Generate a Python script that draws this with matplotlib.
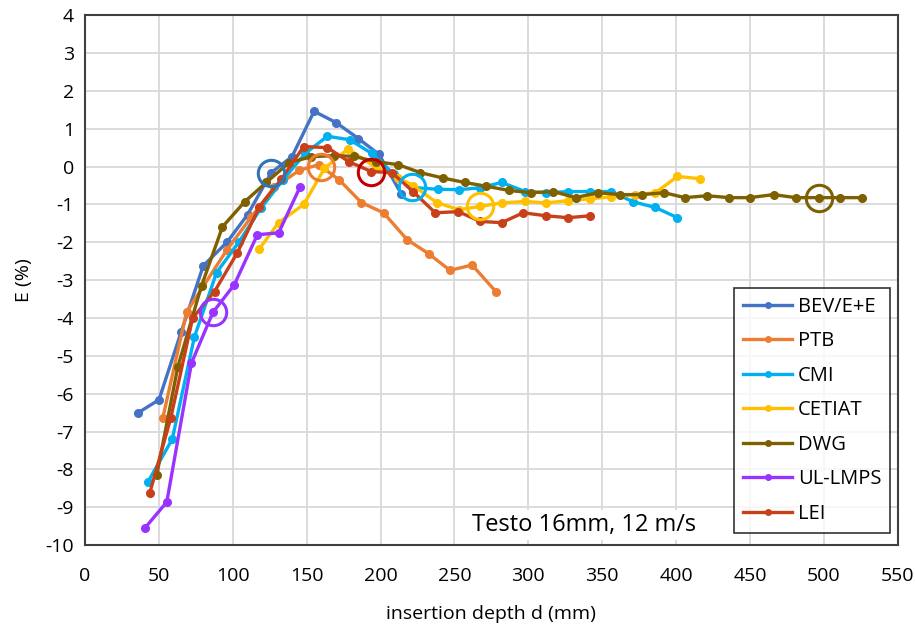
import matplotlib
matplotlib.use("Agg")
import matplotlib.pyplot as plt

plt.rcParams['font.family'] = ['Open Sans', 'DejaVu Sans']

# data (insertion depth in mm, error in %)
bev_x = [36, 50, 65, 80, 96, 110, 126, 140, 155, 170, 185, 199, 214]
bev_y = [-6.5, -6.16, -4.37, -2.62, -2.0, -1.27, -0.16, 0.26, 1.46, 1.16, 0.74, 0.32, -0.72]

ptb_x = [52.6, 68.7, 96, 112.5, 128, 145, 158, 172, 187, 202, 218, 232.5, 247, 262, 278]
ptb_y = [-6.64, -3.84, -2.2, -1.33, -0.55, -0.1, 0.05, -0.35, -0.95, -1.22, -1.93, -2.3, -2.74, -2.6, -3.3]

cmi_x = [42.5, 59, 74, 89, 104, 119, 134, 149, 164, 179, 194, 209, 221, 239, 253, 267.5,
         282, 298, 312, 327, 342, 356, 371, 386, 401]
cmi_y = [-8.33, -7.2, -4.5, -2.8, -2.0, -1.1, -0.35, 0.35, 0.8, 0.71, 0.35, -0.2, -0.55, -0.6,
         -0.61, -0.56, -0.42, -0.66, -0.69, -0.66, -0.66, -0.66, -0.93, -1.08, -1.35]

cetiat_x = [118, 131, 148, 162, 178, 197, 212, 222, 238, 253, 267.5, 282, 298, 312, 327, 342,
            356, 372, 386, 401, 416]
cetiat_y = [-2.17, -1.48, -1.0, -0.05, 0.47, -0.03, -0.3, -0.5, -0.95, -1.14, -1.05, -0.96,
            -0.92, -0.96, -0.9, -0.85, -0.8, -0.74, -0.69, -0.26, -0.32]

dwg_x = [48.5, 62.7, 78.8, 93, 108, 122.6, 138, 153, 168.5, 182, 197, 212, 227, 242, 257, 271.6,
         287, 302, 317, 332, 347, 362, 377, 392, 406, 421, 436, 450, 466, 481, 497, 511, 526]
dwg_y = [-8.15, -5.3, -3.15, -1.59, -0.93, -0.42, 0.1, 0.26, 0.29, 0.27, 0.13, 0.05, -0.16, -0.3,
         -0.42, -0.52, -0.63, -0.69, -0.66, -0.82, -0.69, -0.74, -0.74, -0.69, -0.82, -0.77,
         -0.82, -0.82, -0.74, -0.82, -0.82, -0.82, -0.82]

ul_x = [40.4, 55.3, 72, 86.5, 101, 116.6, 131, 145.6]
ul_y = [-9.55, -8.86, -5.19, -3.85, -3.12, -1.8, -1.75, -0.53]

lei_x = [43.8, 58, 72.8, 87.6, 103, 118, 132.7, 148, 164, 178.6, 193.6, 207.7, 222, 237, 252.7,
         267.5, 282, 296.6, 312, 327, 341.7]
lei_y = [-8.62, -6.64, -4.0, -3.3, -2.28, -1.06, -0.34, 0.53, 0.5, 0.13, -0.13, -0.16, -0.66,
         -1.22, -1.19, -1.45, -1.48, -1.22, -1.3, -1.35, -1.3]

names = ["BEV/E+E", "PTB", "CMI", "CETIAT", "DWG", "UL-LMPS", "LEI"]
colors = ['#4472C4', '#ED7D31', '#00B0F0', '#FFC000', '#7F6000', '#9933FF', '#C8401A']
series = [(bev_x, bev_y), (ptb_x, ptb_y), (cmi_x, cmi_y), (cetiat_x, cetiat_y),
          (dwg_x, dwg_y), (ul_x, ul_y), (lei_x, lei_y)]

# circled points (one per lab)
mark_x = [126, 160, 221, 267.5, 497, 86.5, 193.6]
mark_y = [-0.16, -0.02, -0.55, -1.05, -0.82, -3.85, -0.13]
mark_colors = ['#2E75B6', '#ED7D31', '#00B0F0', '#FFC000', '#7F6000', '#9933FF', '#C00000']

fig = plt.figure(figsize=(9.15, 6.31), dpi=100)
ax = fig.add_axes([0.093, 0.136, 0.888, 0.84])

for (xs, ys), name, c in zip(series, names, colors):
    ax.plot(xs, ys, '-o', color=c, lw=2.4, ms=5.5, label=name)

for x, y, c in zip(mark_x, mark_y, mark_colors):
    ax.plot(x, y, 'o', ms=19, mfc='none', mec=c, mew=2.2)

ax.set_xlim(0, 550)
ax.set_ylim(-10, 4)
ax.set_xticks(range(0, 551, 50))
ax.set_yticks(range(-10, 5))
ax.set_yticklabels([str(v) for v in range(-10, 5)])
ax.grid(True, color='#D9D9D9', lw=1.3)
ax.set_axisbelow(True)
for s in ax.spines.values():
    s.set_color('#404040')
    s.set_linewidth(1.5)
ax.tick_params(length=0, labelsize=14)
ax.tick_params(axis='x', pad=16)
ax.tick_params(axis='y', pad=8)
ax.set_xlabel("insertion depth d (mm)", fontsize=14, labelpad=14)
ax.set_ylabel("E (%)", fontsize=14, labelpad=9)

ax.text(262, -9.47, "Testo 16mm, 12 m/s", fontsize=17, va='center', ha='left',
        bbox=dict(facecolor='white', edgecolor='none', pad=2))

leg = ax.legend(loc='lower right', bbox_to_anchor=(0.9985, 0.012), fontsize=14.5,
                frameon=True, fancybox=False, edgecolor='black', handlelength=2.4,
                labelspacing=0.72, borderpad=0.45, handletextpad=0.3, borderaxespad=0.3)
leg.get_frame().set_linewidth(1.2)
for h in leg.get_lines():
    h.set_markersize(4)

fig.savefig("out.png", dpi=100)
